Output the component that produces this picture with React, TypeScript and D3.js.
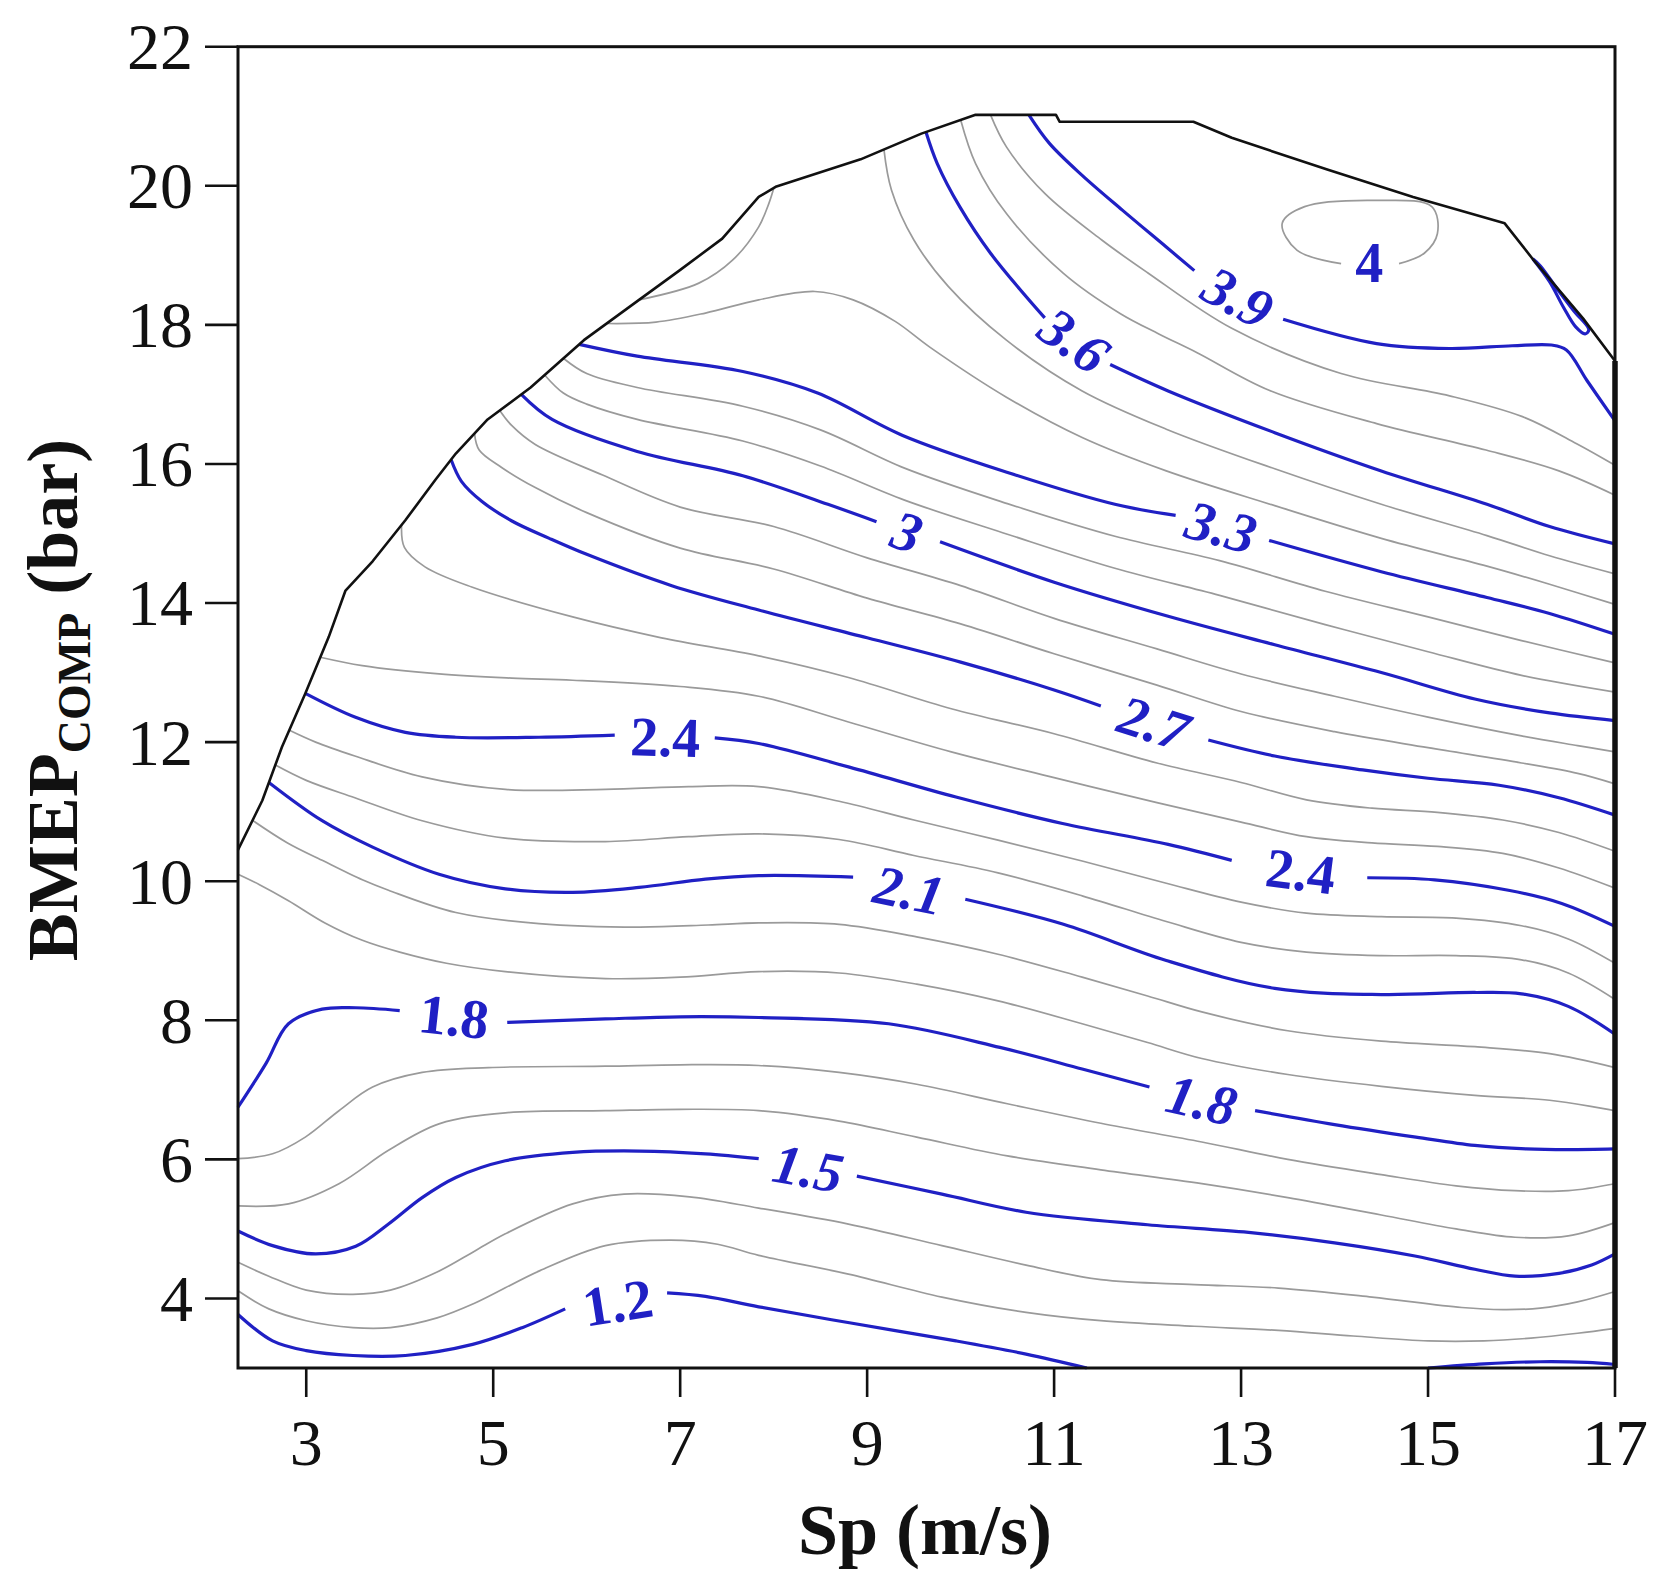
import React from 'react';
import * as d3 from 'd3';

// axis ticks
const xTicks = [3, 5, 7, 9, 11, 13, 15, 17];
const yTicks = [4, 6, 8, 10, 12, 14, 16, 18, 20, 22];

// outline of the measured region [Sp, BMEP]
const boundary = [[2.27,10.45],[2.53,11.16],[2.74,11.93],[2.99,12.7],[3.24,13.51],[3.42,14.18],[3.71,14.6],[4.06,15.19],[4.38,15.77],[4.6,16.15],[4.94,16.64],[5.4,17.1],[5.97,17.78],[6.56,18.36],[6.99,18.78],[7.45,19.24],[7.84,19.84],[8.03,19.99],[8.93,20.38],[9.58,20.75],[10.16,21.02],[11.02,21.02],[11.06,20.92],[12.49,20.92],[12.9,20.69],[13.93,20.23],[14.84,19.84],[15.82,19.46],[16.13,18.93],[16.66,18.09],[17,17.48]];
const rightEdge = [[17,17.48],[17,3]];

// contour lines, [Sp, BMEP]
const lv12a = [[2.27,3.77],[2.64,3.39],[3.0,3.25],[3.5,3.18],[4.06,3.18],[4.78,3.34],[5.31,3.58],[5.77,3.85]];
const lv12b = [[6.86,4.08],[7.27,4.03],[7.84,3.88],[8.81,3.65],[9.95,3.39],[10.7,3.2],[11.35,3.0]];
const lv12c = [[15.0,3.0],[15.6,3.06],[16.2,3.09],[16.7,3.08],[17,3.05]];
const lv13 = [[2.27,4.11],[2.6,3.85],[3.0,3.68],[3.5,3.58],[3.9,3.58],[4.4,3.72],[4.8,3.93],[5.5,4.4],[6.2,4.76],[6.9,4.84],[7.4,4.78],[7.84,4.62],[8.8,4.35],[9.8,4.02],[10.7,3.8],[11.5,3.68],[12.5,3.6],[13.4,3.54],[14.2,3.46],[15.0,3.39],[15.6,3.39],[16.1,3.43],[16.6,3.5],[17,3.57]];
const lv14 = [[2.27,4.52],[2.6,4.32],[3.0,4.12],[3.5,4.06],[3.9,4.12],[4.4,4.38],[4.8,4.68],[5.13,4.93],[5.85,5.36],[6.4,5.5],[7.1,5.46],[7.84,5.3],[8.8,5.07],[9.8,4.76],[10.7,4.48],[11.5,4.27],[12.5,4.2],[13.4,4.15],[14.4,4.02],[15.36,3.87],[15.8,3.84],[16.2,3.86],[16.6,3.95],[17,4.1]];
const lv15a = [[2.27,4.97],[2.64,4.76],[3.1,4.64],[3.53,4.75],[3.88,5.07],[4.24,5.45],[4.6,5.74],[5.13,5.98],[5.85,6.1],[6.56,6.12],[7.27,6.08],[7.84,6.01]];
const lv15b = [[8.89,5.76],[9.8,5.5],[10.7,5.24],[12.0,5.06],[13.08,4.95],[14.0,4.8],[14.86,4.61],[15.5,4.42],[15.93,4.32],[16.4,4.36],[16.75,4.48],[17,4.64]];
const lv16 = [[2.27,5.33],[2.81,5.36],[3.35,5.65],[3.88,6.13],[4.42,6.51],[5.13,6.67],[6.2,6.7],[7.0,6.72],[7.84,6.7],[8.7,6.55],[9.53,6.32],[10.5,6.05],[11.5,5.85],[12.58,5.65],[13.5,5.45],[14.5,5.2],[15.3,5.0],[15.93,4.88],[16.5,4.9],[17,5.09]];
const lv17 = [[2.27,6.01],[2.64,6.08],[2.99,6.32],[3.35,6.7],[3.71,7.04],[4.24,7.25],[4.95,7.32],[6.2,7.34],[7.0,7.36],[7.84,7.35],[8.7,7.25],[9.53,7.08],[10.5,6.8],[11.5,6.52],[12.58,6.25],[13.5,6.0],[14.5,5.78],[15.3,5.62],[15.93,5.55],[16.5,5.55],[17,5.65]];
const lv18a = [[2.27,6.75],[2.57,7.38],[2.81,7.95],[3.17,8.16],[3.53,8.18],[4.0,8.14]];
const lv18b = [[5.15,7.97],[6.2,8.02],[7.0,8.05],[7.84,8.04],[9.23,7.95],[10.42,7.61],[11.3,7.3],[12.02,7.04]];
const lv18c = [[13.15,6.7],[14.0,6.5],[14.87,6.32],[15.5,6.2],[16.05,6.15],[16.5,6.14],[17,6.15]];
const lv19 = [[2.27,10.1],[2.5,9.95],[2.81,9.72],[3.2,9.4],[3.6,9.15],[4.0,8.98],[4.5,8.82],[5.13,8.7],[6.2,8.6],[7.0,8.62],[7.84,8.7],[8.7,8.68],[9.53,8.52],[10.4,8.28],[11.3,7.95],[12.0,7.68],[12.58,7.45],[13.5,7.22],[14.5,7.05],[15.5,6.92],[16.3,6.85],[17,6.7]];
const lv20 = [[2.42,10.88],[2.8,10.55],[3.17,10.3],[3.6,10.02],[3.88,9.87],[4.6,9.55],[5.49,9.39],[6.56,9.34],[7.3,9.37],[7.84,9.4],[8.7,9.38],[9.53,9.2],[10.4,8.95],[11.3,8.62],[12.0,8.35],[12.58,8.12],[13.5,7.85],[14.5,7.7],[15.5,7.62],[16.3,7.52],[17,7.32]];
const lv21a = [[2.6,11.42],[3.17,10.87],[3.71,10.49],[4.42,10.1],[5.13,9.89],[5.85,9.84],[6.56,9.91],[7.27,10.03],[7.84,10.08],[8.85,10.06]];
const lv21b = [[10.05,9.74],[11.1,9.38],[12.2,8.86],[13.36,8.46],[14.5,8.37],[15.5,8.4],[16.0,8.38],[16.5,8.2],[17,7.8]];
const lv22 = [[2.67,11.67],[3.0,11.45],[3.52,11.2],[4.24,10.87],[5.13,10.62],[6.2,10.57],[7.09,10.64],[7.84,10.68],[8.7,10.6],[9.5,10.37],[10.4,10.12],[11.3,9.79],[12.2,9.42],[13.0,9.12],[13.7,8.98],[14.5,8.93],[15.3,8.93],[16.0,8.87],[16.5,8.68],[17,8.3]];
const lv23 = [[2.82,12.17],[3.1,12.0],[3.52,11.8],[4.24,11.5],[5.13,11.32],[6.2,11.32],[7.09,11.36],[7.84,11.36],[8.7,11.15],[9.5,10.88],[10.4,10.59],[11.3,10.29],[12.2,9.97],[13.0,9.7],[13.7,9.54],[14.5,9.49],[15.3,9.47],[16.0,9.36],[16.5,9.17],[17,8.82]];
const lv24a = [[2.99,12.7],[3.52,12.36],[4.06,12.14],[4.6,12.07],[5.49,12.07],[6.3,12.1]];
const lv24b = [[7.37,12.06],[7.84,11.98],[8.81,11.64],[9.95,11.21],[11.09,10.83],[12.22,10.53],[12.9,10.3]];
const lv24c = [[14.35,10.05],[15.07,10.02],[15.86,9.87],[16.43,9.68],[17,9.35]];
const lv25 = [[3.15,13.22],[3.6,13.1],[4.42,12.98],[5.2,12.92],[5.85,12.89],[7.0,12.8],[7.84,12.66],[8.8,12.29],[9.9,11.86],[11.0,11.49],[12.1,11.13],[13.0,10.85],[13.7,10.64],[14.4,10.55],[15.1,10.5],[15.8,10.4],[16.4,10.19],[17,9.9]];
const lv26 = [[4.02,15.13],[4.05,14.8],[4.27,14.52],[4.77,14.23],[5.85,13.8],[6.8,13.5],[7.84,13.24],[8.8,12.93],[9.9,12.48],[11.0,12.12],[12.1,11.7],[13.0,11.42],[13.7,11.17],[14.4,11.05],[15.1,10.99],[15.8,10.88],[16.4,10.7],[17,10.43]];
const lv27a = [[4.55,16.06],[4.66,15.75],[4.88,15.46],[5.2,15.18],[5.6,14.93],[6.0,14.7],[6.91,14.25],[7.84,13.9],[9.0,13.5],[10.0,13.15],[11.0,12.75],[11.5,12.52]];
const lv27b = [[12.65,12.03],[13.36,11.8],[14.3,11.6],[15.0,11.48],[15.76,11.38],[16.4,11.2],[17,10.95]];
const lv28 = [[4.8,16.44],[4.85,16.2],[5.09,15.95],[5.45,15.66],[6.0,15.3],[7.0,14.79],[8.0,14.49],[9.0,14.07],[10.0,13.7],[11.0,13.27],[12.1,12.82],[13.0,12.44],[14.0,12.15],[15.0,11.92],[16.0,11.7],[16.6,11.55],[17,11.4]];
const lv29 = [[5.07,16.77],[5.2,16.55],[5.45,16.28],[6.17,15.84],[7.0,15.38],[8.0,15.1],[9.0,14.65],[10.0,14.25],[11.0,13.78],[12.1,13.34],[13.0,12.98],[14.0,12.66],[15.0,12.36],[16.0,12.09],[16.6,11.95],[17,11.86]];
const lv30a = [[5.3,17.0],[5.63,16.64],[6.54,16.18],[7.67,15.83],[8.58,15.42],[9.1,15.17]];
const lv30b = [[9.78,14.88],[11.0,14.3],[12.22,13.81],[13.36,13.4],[14.5,13.0],[15.5,12.62],[16.3,12.42],[17,12.31]];
const lv31 = [[5.55,17.28],[5.75,17.02],[6.0,16.86],[6.54,16.64],[7.67,16.33],[8.5,15.97],[9.4,15.48],[10.5,14.99],[11.65,14.5],[12.77,14.11],[13.9,13.69],[15.0,13.3],[16.0,12.96],[17,12.72]];
const lv32 = [[5.75,17.52],[6.0,17.3],[6.54,17.1],[7.67,16.83],[8.5,16.49],[9.4,15.94],[10.5,15.43],[11.65,14.96],[12.77,14.61],[13.9,14.17],[15.0,13.8],[16.0,13.46],[17,13.14]];
const lv33a = [[5.92,17.72],[6.54,17.55],[7.67,17.33],[8.47,17.02],[9.38,16.41],[10.52,15.87],[11.65,15.42],[12.3,15.26]];
const lv33b = [[13.3,14.9],[14.5,14.45],[15.63,14.08],[16.3,13.85],[17,13.55]];
const lv34 = [[6.22,18.02],[6.74,18.04],[7.27,18.17],[7.84,18.36],[8.44,18.48],[8.85,18.36],[9.3,18.05],[9.67,17.68],[10.49,16.96],[11.3,16.38],[12.2,15.9],[13.36,15.4],[14.5,14.93],[15.63,14.53],[16.3,14.27],[17,13.98]];
const lv35a = [[9.18,20.52],[9.26,19.94],[9.5,19.22],[9.87,18.55],[10.49,17.78],[11.3,17.05],[12.2,16.5],[13.36,15.93],[14.5,15.42],[15.63,14.97],[16.3,14.68],[17,14.42]];
const lv35b = [[6.56,18.36],[7.2,18.6],[7.56,18.93],[7.84,19.41],[7.95,19.75],[8.0,19.96]];
const lv36a = [[9.63,20.77],[9.75,20.32],[9.99,19.7],[10.32,19.03],[10.9,18.1]];
const lv36b = [[11.6,17.43],[12.22,17.05],[13.36,16.45],[14.5,15.9],[15.63,15.42],[16.3,15.1],[17,14.85]];
const lv37 = [[10.0,20.95],[10.16,20.32],[10.49,19.6],[11.1,18.74],[11.71,18.16],[12.12,17.87],[12.53,17.6],[13.3,17.06],[14.45,16.58],[15.62,16.2],[16.4,15.9],[17,15.55]];
const lv38 = [[10.32,21.02],[10.49,20.56],[10.9,19.89],[11.51,19.22],[12.0,18.75],[12.9,17.95],[14.07,17.3],[15.23,16.98],[16.01,16.68],[16.59,16.29],[17,15.98]];
const lv39a = [[10.73,21.02],[10.95,20.61],[11.3,20.15],[11.73,19.65],[12.2,19.12],[12.5,18.78]];
const lv39b = [[13.45,18.08],[14.45,17.73],[15.23,17.66],[15.9,17.7],[16.32,17.71],[16.48,17.64],[16.7,17.2],[17,16.62]];
const lv39c = [[16.12,18.95],[16.3,18.62],[16.45,18.25],[16.58,17.97],[16.68,17.87],[16.72,17.93],[16.56,18.2],[16.38,18.52],[16.2,18.85],[16.12,18.95]];
const lv40 = [[14.69,18.88],[14.96,19.03],[15.1,19.31],[15.04,19.7],[14.45,19.79],[13.68,19.7],[13.44,19.46],[13.6,19.07],[14.07,18.88]];

// inline labels: text, level, Sp, BMEP
const labels = [
  ['1.2', 1.2, 6.33, 3.95], ['1.5', 1.5, 8.37, 5.88], ['1.8', 1.8, 4.58, 8.06],
  ['1.8', 1.8, 12.58, 6.86], ['2.1', 2.1, 9.45, 9.88], ['2.4', 2.4, 6.84, 12.08],
  ['2.4', 2.4, 13.64, 10.15], ['2.7', 2.7, 12.07, 12.28], ['3', 3.0, 9.43, 15.03],
  ['3.3', 3.3, 12.79, 15.1], ['3.6', 3.6, 11.22, 17.78], ['3.9', 3.9, 12.97, 18.4],
  ['4', 4.0, 14.37, 18.9],
];

const contours = [
  { level: 1.2, pts: lv12a }, { level: 1.2, pts: lv12b }, { level: 1.2, pts: lv12c },
  { level: 1.3, pts: lv13 }, { level: 1.4, pts: lv14 },
  { level: 1.5, pts: lv15a }, { level: 1.5, pts: lv15b },
  { level: 1.6, pts: lv16 }, { level: 1.7, pts: lv17 },
  { level: 1.8, pts: lv18a }, { level: 1.8, pts: lv18b }, { level: 1.8, pts: lv18c },
  { level: 1.9, pts: lv19 }, { level: 2.0, pts: lv20 },
  { level: 2.1, pts: lv21a }, { level: 2.1, pts: lv21b },
  { level: 2.2, pts: lv22 }, { level: 2.3, pts: lv23 },
  { level: 2.4, pts: lv24a }, { level: 2.4, pts: lv24b }, { level: 2.4, pts: lv24c },
  { level: 2.5, pts: lv25 }, { level: 2.6, pts: lv26 },
  { level: 2.7, pts: lv27a }, { level: 2.7, pts: lv27b },
  { level: 2.8, pts: lv28 }, { level: 2.9, pts: lv29 },
  { level: 3.0, pts: lv30a }, { level: 3.0, pts: lv30b },
  { level: 3.1, pts: lv31 }, { level: 3.2, pts: lv32 },
  { level: 3.3, pts: lv33a }, { level: 3.3, pts: lv33b },
  { level: 3.4, pts: lv34 }, { level: 3.5, pts: lv35a }, { level: 3.5, pts: lv35b },
  { level: 3.6, pts: lv36a }, { level: 3.6, pts: lv36b },
  { level: 3.7, pts: lv37 }, { level: 3.8, pts: lv38 },
  { level: 3.9, pts: lv39a }, { level: 3.9, pts: lv39b }, { level: 3.9, pts: lv39c },
  { level: 4.0, pts: lv40 },
];

const BLUE = '#2020c4';
const GRAY = '#9a9a9a';
const FONT = '"Liberation Serif", "Times New Roman", serif';

const isMajor = (lv) => Math.round(lv * 10) % 3 === 0 && lv < 3.95;

export default function App() {
  const x = d3.scaleLinear().domain([2.27, 17]).range([238, 1615]);
  const y = d3.scaleLinear().domain([3, 22]).range([1368, 46.7]);

  const smooth = d3.line().x(d => x(d[0])).y(d => y(d[1])).curve(d3.curveCatmullRom.alpha(0.5));
  const straight = d3.line().x(d => x(d[0])).y(d => y(d[1]));

  // label angle follows the gap in its contour
  const labelAngle = (lv, sp, bm) => {
    const px = x(sp), py = y(bm);
    let prev = null, next = null, dp = Infinity, dn = Infinity;
    contours.filter(c => Math.abs(c.level - lv) < 1e-6).forEach(c => {
      const a = c.pts[c.pts.length - 1], b = c.pts[0];
      const da = Math.hypot(x(a[0]) - px, y(a[1]) - py);
      const db = Math.hypot(x(b[0]) - px, y(b[1]) - py);
      if (da < dp) { dp = da; prev = a; }
      if (db < dn) { dn = db; next = b; }
    });
    if (!prev || !next) return 0;
    return Math.atan2(y(next[1]) - y(prev[1]), x(next[0]) - x(prev[0])) * 180 / Math.PI;
  };

  return (
    <div style={{ position: 'absolute', left: 0, top: 0 }}>
      <svg width={1667} height={1593} style={{ display: 'block', background: '#fff' }}>
        {contours.filter(c => !isMajor(c.level)).map((c, i) => (
          <path key={'g' + i} d={smooth(c.pts)} fill="none" stroke={GRAY} strokeWidth={1.7} />
        ))}
        {contours.filter(c => isMajor(c.level)).map((c, i) => (
          <path key={'b' + i} d={smooth(c.pts)} fill="none" stroke={BLUE} strokeWidth={3.2} />
        ))}

        <path d={straight(boundary)} fill="none" stroke="#111" strokeWidth={2.6} strokeLinejoin="round" />

        {labels.map(([t, lv, sp, bm], i) => {
          const ang = labelAngle(lv, sp, bm);
          return (
            <text key={'l' + i} transform={`translate(${x(sp)},${y(bm)}) rotate(${ang})`}
              textAnchor="middle" dy="0.35em" fill={BLUE} fontFamily={FONT} fontWeight="bold"
              fontStyle={Math.abs(ang) > 9 ? 'italic' : 'normal'} fontSize={56}>{t}</text>
          );
        })}

        <rect x={x(2.27)} y={y(22)} width={x(17) - x(2.27)} height={y(3) - y(22)}
          fill="none" stroke="#111" strokeWidth={3} />
        <path d={straight(rightEdge)} fill="none" stroke="#111" strokeWidth={5.5} />

        {xTicks.map(t => (
          <g key={'xt' + t}>
            <line x1={x(t)} x2={x(t)} y1={y(3)} y2={y(3) + 29} stroke="#111" strokeWidth={2.6} />
            <text x={x(t)} y={1465} textAnchor="middle" fontFamily={FONT} fontSize={66} fill="#111">{t}</text>
          </g>
        ))}
        {yTicks.map(t => (
          <g key={'yt' + t}>
            <line x1={x(2.27) - 33} x2={x(2.27)} y1={y(t)} y2={y(t)} stroke="#111" strokeWidth={2.6} />
            <text x={193} y={y(t)} dy="0.34em" textAnchor="end" fontFamily={FONT} fontSize={66} fill="#111">{t}</text>
          </g>
        ))}

        <text x={925} y={1554} textAnchor="middle" fontFamily={FONT} fontWeight="bold" fontSize={72} fill="#111">Sp (m/s)</text>
        <text transform="translate(77,700) rotate(-90)" textAnchor="middle" fontFamily={FONT}
          fontWeight="bold" fontSize={72} fill="#111">
          BMEP<tspan fontSize={46} dy={13}>COMP</tspan><tspan dy={-13}> (bar)</tspan>
        </text>
      </svg>
    </div>
  );
}
